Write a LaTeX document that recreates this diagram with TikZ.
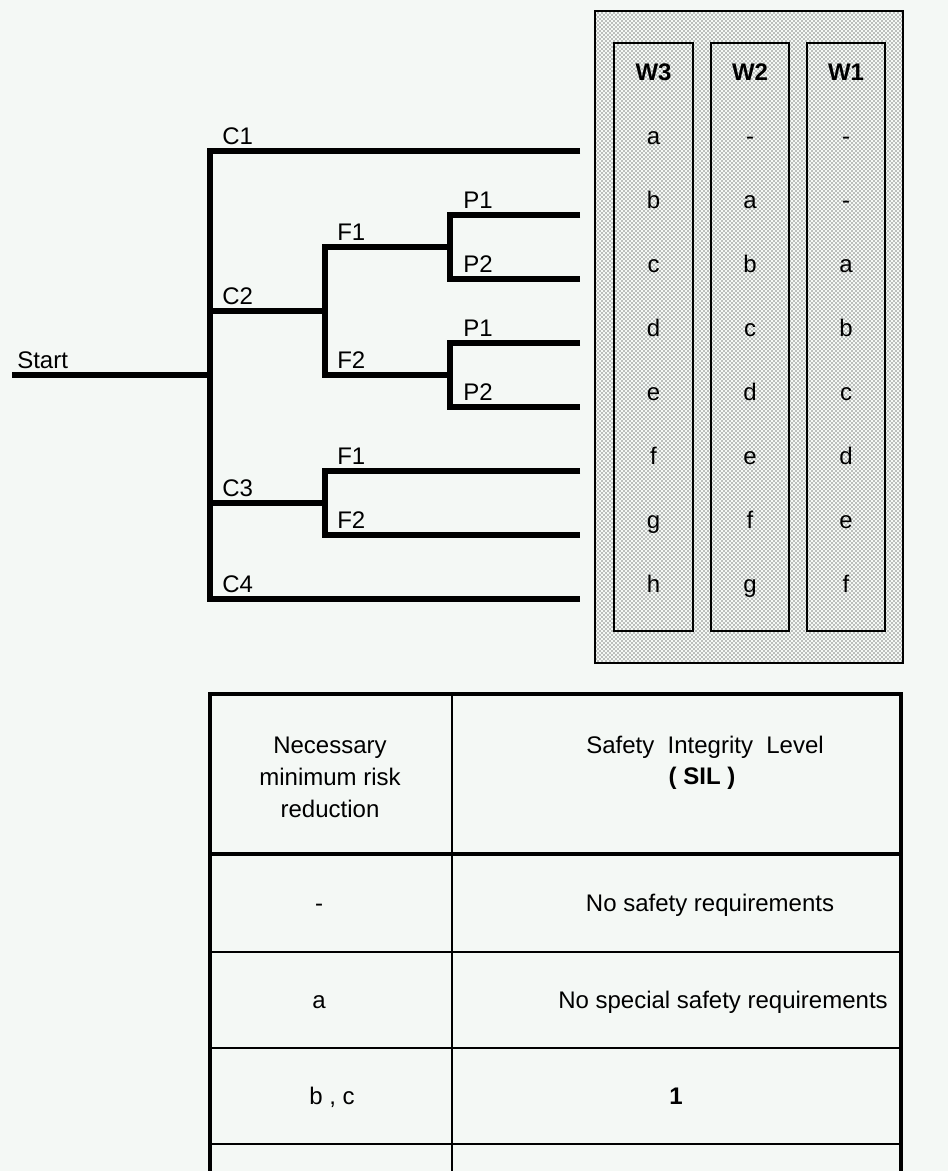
\documentclass[tikz,border=0pt]{standalone}
\usepackage{fontspec}
\setmainfont{Liberation Sans}
\usetikzlibrary{patterns}
\definecolor{paper}{HTML}{F4F8F5}

\begin{document}
\fontsize{18}{24}\selectfont
\begin{tikzpicture}[x=0.75pt, y=-0.75pt,
  branch/.style={line width=4pt, line join=miter},
  lbl/.style={anchor=base west, inner sep=0pt},
  cell/.style={anchor=base, inner sep=0pt},
  grid/.style={line width=1.6pt}]

% Canvas 948 x 1171 px, y runs down
\useasboundingbox (0,0) rectangle (948,1171);
\clip (0,0) rectangle (948,1171);
\fill[paper] (0,0) rectangle (948,1171);

% Branch points of the risk graph
\coordinate (start) at (12,375);
\coordinate (root) at (210,375);
\coordinate (c1) at (210,151);   \coordinate (c1e) at (580,151);
\coordinate (c4) at (210,599);   \coordinate (c4e) at (580,599);
\coordinate (c2) at (210,311);   \coordinate (fa) at (325,311);
\coordinate (f1a) at (325,247);  \coordinate (pa) at (450,247);
\coordinate (f2a) at (325,375);  \coordinate (pb) at (450,375);
\coordinate (p1a) at (450,215);  \coordinate (p1ae) at (580,215);
\coordinate (p2a) at (450,279);  \coordinate (p2ae) at (580,279);
\coordinate (p1b) at (450,343);  \coordinate (p1be) at (580,343);
\coordinate (p2b) at (450,407);  \coordinate (p2be) at (580,407);
\coordinate (c3) at (210,503);   \coordinate (fb) at (325,503);
\coordinate (f1b) at (325,471);  \coordinate (f1be) at (580,471);
\coordinate (f2b) at (325,535);  \coordinate (f2be) at (580,535);

% Branches
\draw[branch] (start) -- (root);
\draw[branch] (c1e) -- (c1) -- (c4) -- (c4e);
\draw[branch] (c2) -- (fa);
\draw[branch] (pa) -- (f1a) -- (f2a) -- (pb);
\draw[branch] (p1ae) -- (p1a) -- (p2a) -- (p2ae);
\draw[branch] (p1be) -- (p1b) -- (p2b) -- (p2be);
\draw[branch] (c3) -- (fb);
\draw[branch] (f1be) -- (f1b) -- (f2b) -- (f2be);

% Branch labels
\node[lbl] (lstart) at (17,368) {Start};
\node[lbl] (lc1) at (222,144) {C1};
\node[lbl] (lc2) at (222,304) {C2};
\node[lbl] (lc3) at (222,496) {C3};
\node[lbl] (lc4) at (222,592) {C4};
\node[lbl] (lf1a) at (337,240) {F1};
\node[lbl] (lf2a) at (337,368) {F2};
\node[lbl] (lf1b) at (337,464) {F1};
\node[lbl] (lf2b) at (337,528) {F2};
\node[lbl] (lp1a) at (463,208) {P1};
\node[lbl] (lp2a) at (463,272) {P2};
\node[lbl] (lp1b) at (463,336) {P1};
\node[lbl] (lp2b) at (463,400) {P2};

% Dotted panel with the W columns
\draw[line width=1.5pt, pattern=crosshatch dots] (595,11) rectangle (903,663);
\draw[line width=1.5pt] (614,43) rectangle (693,631);
\draw[line width=1.5pt] (711,43) rectangle (789,631);
\draw[line width=1.5pt] (807,43) rectangle (885,631);
\node[cell, font=\bfseries] (w3) at (653.5,80) {W3};
\node[cell, font=\bfseries] (w2) at (750,80) {W2};
\node[cell, font=\bfseries] (w1) at (846,80) {W1};
\foreach \y/\p/\q/\s [count=\i] in {144/a/-/-, 208/b/a/-, 272/c/b/a,
    336/d/c/b, 400/e/d/c, 464/f/e/d, 528/g/f/e, 592/h/g/f} {
  \node[cell] (w3-\i) at (653.5,\y) {\p};
  \node[cell] (w2-\i) at (750,\y) {\q};
  \node[cell] (w1-\i) at (846,\y) {\s};
}

% SIL table
\draw[line width=3pt] (210,1180) -- (210,694) -- (901,694) -- (901,1180);
\draw[line width=2.6pt] (210,854) -- (901,854);
\draw[grid] (210,952) -- (901,952);
\draw[grid] (210,1048) -- (901,1048);
\draw[grid] (210,1144) -- (901,1144);
\draw[grid] (452,694) -- (452,1180);

\node[align=center, inner sep=0pt] (hrisk) at (330,777)
  {Necessary\\minimum risk\\reduction};
\node[cell] (hsil) at (705,753) {Safety~~Integrity~~Level};
\node[cell, font=\bfseries] (hsil2) at (702,784) {( SIL )};

\node[cell] (r0) at (319,911) {-};
\node[cell] (s0) at (710,911) {No safety requirements};
\node[cell] (r1) at (319,1008) {a};
\node[cell] (s1) at (723,1008) {No special safety requirements};
\node[cell] (r2) at (332,1104) {b , c};
\node[cell, font=\bfseries] (s2) at (676,1104) {1};

\end{tikzpicture}
\end{document}
